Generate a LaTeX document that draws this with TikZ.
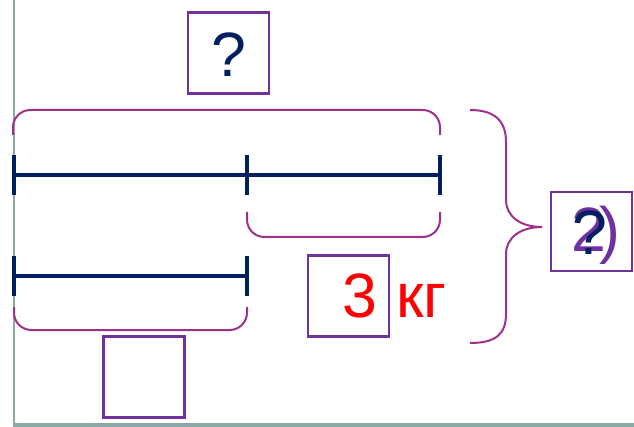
\documentclass[tikz,border=0pt]{standalone}
\usepackage{fontspec}
\setmainfont{Liberation Sans}
\definecolor{navy}{HTML}{002060}
\definecolor{boxpurple}{HTML}{7030A0}
\definecolor{bracecol}{HTML}{A0308C}
\definecolor{framegray}{HTML}{8AA8A8}
\definecolor{redtxt}{HTML}{FF0000}
\begin{document}
\begin{tikzpicture}[x=0.75pt,y=-0.75pt,
  bar/.style={navy,line width=3.4pt},
  brace/.style={bracecol,line width=1.5pt,rounded corners=13pt},
  answerbox/.style={draw=boxpurple,line width=2pt,fill=white,minimum width=60.75pt,minimum height=60.75pt,inner sep=0pt},
  big/.style={font=\fontsize{47}{47}\selectfont,inner sep=0pt}
]
\useasboundingbox (0,0) rectangle (634,427);
% frame
\draw[framegray,line width=1.5pt] (13.5,0) -- (13.5,427);
\draw[framegray,line width=3pt] (12.5,425) -- (634,425);
% bars
\coordinate (a1) at (14,175);
\coordinate (a2) at (247,175);
\coordinate (a3) at (440,175);
\coordinate (b1) at (14,276);
\coordinate (b2) at (247,276);
\draw[bar] (a1) -- (a3);
\foreach \p in {a1,a2,a3} \draw[bar] ([yshift=15pt]\p) -- ([yshift=-15pt]\p);
\draw[bar] (b1) -- (b2);
\foreach \p in {b1,b2} \draw[bar] ([yshift=15pt]\p) -- ([yshift=-15pt]\p);
% braces
\draw[brace] (13,135) -- (13,110) -- (440,110) -- (440,135);
\draw[brace] (247,212) -- (247,237) -- (440,237) -- (440,212);
\draw[brace] (14,307) -- (14,330) -- (247,330) -- (247,307);
\draw[bracecol,line width=1.5pt] (470,110) .. controls (496,110) and (506,122) .. (506,142)
  -- (506,200) .. controls (506,216) and (520,227) .. (542,227)
  .. controls (520,227) and (506,238) .. (506,254)
  -- (506,314) .. controls (506,334) and (496,343) .. (470,343);
% boxes
\node[answerbox] (topbox) at (228.5,53) {};
\node[answerbox] (botbox) at (144,377) {};
\node[answerbox] (kgbox) at (348.5,296) {};
\node[answerbox,minimum height=59pt] (rightbox) at (591.5,231.5) {};
% texts
\node[big,navy,anchor=base] (topq) at (229,77) {?};
\node[big,redtxt,anchor=base west] (three) at (342,317) {3};
\node[big,redtxt,anchor=base west] (kg) at (396,317) {кг};
\node[big,boxpurple,anchor=base west] (two) at (571,252) {2};
\node[big,boxpurple,anchor=base west] (paren) at (599,252) {)};
\node[big,navy,anchor=base west] (rq) at (572.5,254) {?};
\end{tikzpicture}
\end{document}
